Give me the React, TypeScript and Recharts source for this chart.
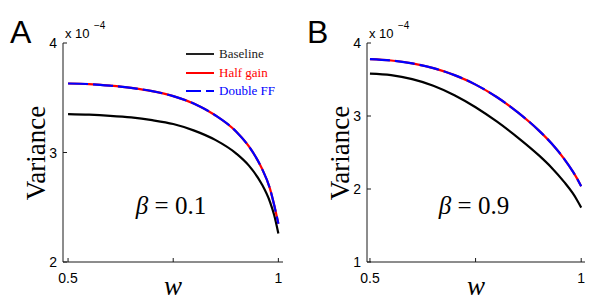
import React from "react";
import { LineChart, Line, XAxis, YAxis, Legend } from "recharts";

// values are in units of 1e-4
const wValues = [0.5, 0.55, 0.6, 0.65, 0.7, 0.75, 0.8, 0.85, 0.9, 0.93, 0.96, 0.98, 0.99, 1.0];
const baselineA = [3.35, 3.345, 3.335, 3.32, 3.295, 3.26, 3.2, 3.115, 2.99, 2.88, 2.715, 2.55, 2.43, 2.26];
const halfGainA = [3.63, 3.625, 3.61, 3.59, 3.56, 3.515, 3.445, 3.34, 3.19, 3.055, 2.86, 2.67, 2.52, 2.35];
const doubleFfA = [3.63, 3.625, 3.61, 3.59, 3.56, 3.515, 3.445, 3.34, 3.19, 3.055, 2.86, 2.67, 2.52, 2.35];
const baselineB = [3.58, 3.56, 3.505, 3.415, 3.285, 3.12, 2.925, 2.705, 2.46, 2.292, 2.094, 1.942, 1.85, 1.745];
const halfGainB = [3.78, 3.76, 3.72, 3.655, 3.56, 3.43, 3.26, 3.05, 2.8, 2.623, 2.41, 2.242, 2.146, 2.036];
const doubleFfB = [3.78, 3.76, 3.72, 3.655, 3.56, 3.43, 3.26, 3.05, 2.8, 2.623, 2.41, 2.242, 2.146, 2.036];

const xTicks = [0.5, 0.75, 1];
const xTickLabels = ["0.5", "", "1"];
const yTicksA = [2, 3, 4];
const yTicksB = [1, 2, 3, 4];
const seriesNames = ["Baseline", "Half gain", "Double FF"];

const SANS = "'Liberation Sans', Arial, Helvetica, sans-serif";
const SERIF = "'Liberation Serif', 'Times New Roman', serif";
const AXIS = "#1a1a1a";

function build(base: number[], half: number[], dbl: number[]) {
  return wValues.map((w, i) => ({ w, base: base[i], half: half[i], dbl: dbl[i] }));
}

const dataA = build(baselineA, halfGainA, doubleFfA);
const dataB = build(baselineB, halfGainB, doubleFfB);

const BottomTick = (props: any) => {
  const { x, y, payload } = props;
  const i = xTicks.indexOf(payload.value);
  const label = i >= 0 ? xTickLabels[i] : "";
  return (
    <g>
      <line x1={x} y1={y} x2={x} y2={y - 4} stroke={AXIS} />
      {label && (
        <text x={x} y={y + 16} textAnchor="middle" dominantBaseline="central" fontSize={14} fontFamily={SANS} fill="#000">
          {label}
        </text>
      )}
    </g>
  );
};

const TopTick = (props: any) => {
  const { x, y } = props;
  return <line x1={x} y1={y} x2={x} y2={y + 4} stroke={AXIS} />;
};

const LeftTick = (props: any) => {
  const { x, y, payload } = props;
  return (
    <g>
      <line x1={x} y1={y} x2={x + 4} y2={y} stroke={AXIS} />
      <text x={x - 6} y={y} textAnchor="end" dominantBaseline="central" fontSize={14} fontFamily={SANS} fill="#000">
        {payload.value}
      </text>
    </g>
  );
};

const RightTick = (props: any) => {
  const { x, y } = props;
  return <line x1={x} y1={y} x2={x - 4} y2={y} stroke={AXIS} />;
};

const legendColors = ["#222", "#ff0000", "#0000ff"];

const LegendBox = () => (
  <div style={{ fontFamily: SERIF, fontSize: 13, lineHeight: "18.5px" }}>
    {seriesNames.map((name, i) => (
      <div key={name} style={{ display: "flex", alignItems: "center", height: 18.5 }}>
        <svg width={28} height={6} style={{ marginRight: 5 }}>
          <line
            x1={0}
            y1={3}
            x2={28}
            y2={3}
            stroke={legendColors[i]}
            strokeWidth={2}
            strokeDasharray={i === 2 ? "15 5" : undefined}
          />
        </svg>
        <span style={{ color: legendColors[i], fontFamily: SERIF }}>{name}</span>
      </div>
    ))}
  </div>
);

type PanelProps = {
  data: any[];
  left: number;
  width: number;
  yAxisWidth: number;
  rightMargin: number;
  xDomain: [number, number];
  yDomain: [number, number];
  yTicks: number[];
  showLegend: boolean;
};

function Panel({ data, left, width, yAxisWidth, rightMargin, xDomain, yDomain, yTicks, showLegend }: PanelProps) {
  return (
    <div style={{ position: "absolute", left, top: 0 }}>
      <LineChart width={width} height={303} data={data} margin={{ top: 43, right: rightMargin, bottom: 0, left: 0 }}>
        <XAxis
          xAxisId="bottom"
          dataKey="w"
          type="number"
          domain={xDomain}
          ticks={xTicks}
          allowDataOverflow
          height={41}
          tickSize={0}
          tickMargin={0}
          tick={<BottomTick />}
          stroke={AXIS}
          interval={0}
        />
        <XAxis
          xAxisId="top"
          orientation="top"
          dataKey="w"
          type="number"
          domain={xDomain}
          ticks={xTicks}
          allowDataOverflow
          height={0}
          tickSize={0}
          tickMargin={0}
          tick={<TopTick />}
          stroke={AXIS}
          interval={0}
        />
        <YAxis
          yAxisId="left"
          type="number"
          domain={yDomain}
          ticks={yTicks}
          allowDataOverflow
          width={yAxisWidth}
          tickSize={0}
          tickMargin={0}
          tick={<LeftTick />}
          stroke={AXIS}
          interval={0}
        />
        <YAxis
          yAxisId="right"
          orientation="right"
          type="number"
          domain={yDomain}
          ticks={yTicks}
          allowDataOverflow
          width={0}
          tickSize={0}
          tickMargin={0}
          tick={<RightTick />}
          stroke={AXIS}
          interval={0}
        />
        {showLegend && (
          <Legend
            layout="horizontal"
            align="center"
            verticalAlign="middle"
            wrapperStyle={{ top: 45, left: 186, width: 100 }}
            content={<LegendBox />}
          />
        )}
        <Line
          xAxisId="bottom"
          yAxisId="left"
          type="monotone"
          dataKey="base"
          name={seriesNames[0]}
          stroke="#000"
          strokeWidth={2.2}
          dot={false}
          isAnimationActive={false}
        />
        <Line
          xAxisId="bottom"
          yAxisId="left"
          type="monotone"
          dataKey="half"
          name={seriesNames[1]}
          stroke="#ff0000"
          strokeWidth={2.2}
          dot={false}
          isAnimationActive={false}
        />
        <Line
          xAxisId="bottom"
          yAxisId="left"
          type="monotone"
          dataKey="dbl"
          name={seriesNames[2]}
          stroke="#0000ff"
          strokeWidth={2.2}
          strokeDasharray="20 5"
          dot={false}
          isAnimationActive={false}
        />
      </LineChart>
    </div>
  );
}

function Labels({ axisLeft, plotCenter, letter, letterX, beta }: any) {
  return (
    <>
      <text x={letterX} y={43} fontSize={32} fontFamily={SANS} fill="#000">
        {letter}
      </text>
      <text x={axisLeft + 2} y={38} fontSize={13} fontFamily={SANS} fill="#000">
        x 10
      </text>
      <text x={axisLeft + 31} y={29} fontSize={10} fontFamily={SANS} fill="#000">
        −4
      </text>
      <text
        transform={`translate(${axisLeft - 18}, 153) rotate(-90)`}
        textAnchor="middle"
        fontSize={27}
        fontFamily={SERIF}
        fill="#000"
      >
        Variance
      </text>
      <text x={plotCenter} y={295} textAnchor="middle" fontSize={27} fontStyle="italic" fontFamily={SERIF} fill="#000">
        w
      </text>
      <text x={plotCenter - 2} y={214} textAnchor="middle" fontSize={25} fontFamily={SERIF} fill="#000">
        <tspan fontStyle="italic">β</tspan> = {beta}
      </text>
    </>
  );
}

export default function App() {
  return (
    <div style={{ position: "absolute", left: 0, top: 0, width: 592, height: 303, background: "#fff" }}>
      <Panel
        data={dataA}
        left={0}
        width={300}
        yAxisWidth={63}
        rightMargin={17}
        xDomain={[0.488, 1.011]}
        yDomain={[2, 4]}
        yTicks={yTicksA}
        showLegend
      />
      <Panel
        data={dataB}
        left={300}
        width={292}
        yAxisWidth={67}
        rightMargin={7}
        xDomain={[0.493, 1.009]}
        yDomain={[1, 4]}
        yTicks={yTicksB}
        showLegend={false}
      />
      <svg width={592} height={303} style={{ position: "absolute", left: 0, top: 0, pointerEvents: "none" }}>
        <Labels axisLeft={63} plotCenter={173} letter="A" letterX={10} beta="0.1" />
        <Labels axisLeft={367} plotCenter={476} letter="B" letterX={307} beta="0.9" />
      </svg>
    </div>
  );
}
